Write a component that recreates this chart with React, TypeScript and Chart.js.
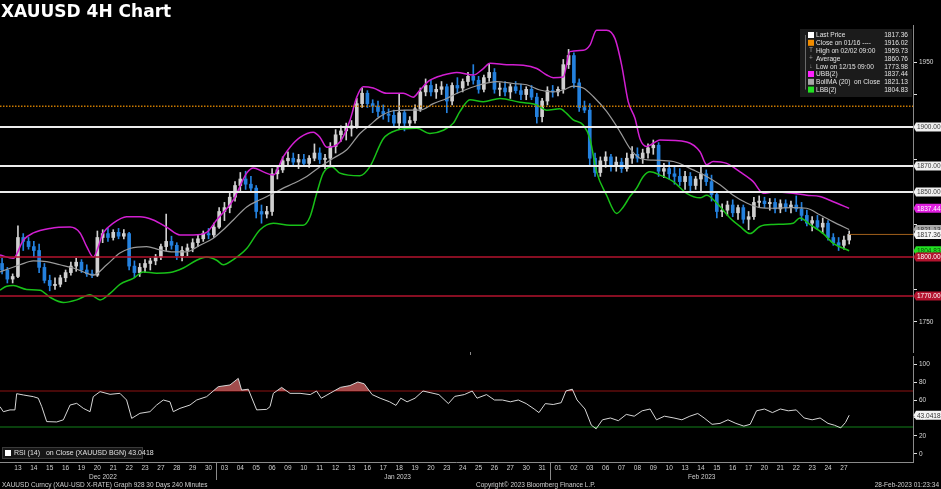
import React, { useEffect, useRef } from "react";
import { Chart, registerables } from "chart.js";

Chart.register(...registerables);

// ---------------- DATA ----------------
const dayLabels = [
  "13", "14", "15", "16", "19", "20", "21", "22", "23", "27", "28", "29", "30",
  "03", "04", "05", "06", "09", "10", "11", "12", "13", "16", "17", "18", "19", "20", "23", "24", "25", "26", "27", "30", "31",
  "01", "02", "03", "06", "07", "08", "09", "10", "13", "14", "15", "16", "17", "20", "21", "22", "23", "24", "27",
];
const monthLabels = ["Dec 2022", "Jan 2023", "Feb 2023"];
const monthLabelDay = [5.85, 24.4, 43.55];
const monthStartDay = [13, 34];

// 8-hour candles, three per trading day, first one half a day before Dec 13
const firstOpen = 1795;
const candleHigh = [
  1799, 1792, 1787, 1824, 1818, 1815, 1812, 1810, 1795, 1786,
  1784, 1786, 1790, 1796, 1799, 1798, 1794, 1790, 1820, 1821,
  1822, 1821, 1822, 1821, 1819, 1797, 1795, 1798, 1799, 1802,
  1810, 1833, 1816, 1811, 1808, 1810, 1814, 1817, 1820, 1822,
  1826, 1838, 1842, 1850, 1858, 1865, 1866, 1862, 1855, 1840,
  1839, 1868, 1870, 1877, 1881, 1880, 1879, 1879, 1878, 1887,
  1884, 1879, 1888, 1898, 1901, 1903, 1905, 1922, 1930, 1928,
  1921, 1920, 1917, 1914, 1913, 1926, 1913, 1908, 1917, 1930,
  1937, 1936, 1933, 1935, 1933, 1934, 1938, 1937, 1942, 1948,
  1939, 1940, 1949, 1945, 1934, 1935, 1933, 1935, 1933, 1931,
  1932, 1926, 1922, 1931, 1932, 1931, 1952, 1959.73, 1957, 1937,
  1920, 1918, 1880, 1877, 1881, 1879, 1877, 1876, 1880, 1885,
  1884, 1883, 1887, 1890, 1888, 1872, 1873, 1869, 1868, 1866,
  1865, 1862, 1869, 1867, 1863, 1850, 1841, 1843, 1844, 1840,
  1840, 1835, 1846, 1847, 1846, 1845, 1845, 1844, 1844, 1843,
  1847, 1842, 1836, 1831, 1832, 1830, 1828, 1818, 1815, 1816,
  1820,
];
const candleLow = [
  1787, 1780, 1780, 1784, 1805, 1806, 1800, 1788, 1780, 1773.98,
  1775, 1777, 1781, 1786, 1789, 1788, 1785, 1784, 1785, 1811,
  1812, 1813, 1814, 1814, 1790, 1784, 1785, 1788, 1790, 1794,
  1798, 1805, 1806, 1798, 1797, 1801, 1804, 1808, 1812, 1814,
  1815, 1822, 1828, 1834, 1843, 1851, 1852, 1850, 1830, 1826,
  1830, 1832, 1860, 1865, 1870, 1871, 1868, 1870, 1869, 1874,
  1872, 1868, 1870, 1880, 1889, 1890, 1893, 1899, 1915, 1915,
  1911, 1908, 1906, 1904, 1900, 1899, 1897, 1899, 1903, 1912,
  1924, 1924, 1922, 1925, 1911, 1917, 1926, 1927, 1932, 1933,
  1926, 1927, 1935, 1926, 1924, 1924, 1922, 1926, 1921, 1921,
  1921, 1903, 1904, 1917, 1923, 1924, 1926, 1945, 1930, 1912,
  1911, 1870, 1862, 1862, 1869, 1866, 1866, 1865, 1866, 1872,
  1873, 1872, 1876, 1879, 1862, 1861, 1860, 1856, 1855, 1852,
  1851, 1852, 1851, 1855, 1843, 1830, 1831, 1832, 1831, 1829,
  1826, 1821, 1829, 1838, 1838, 1836, 1834, 1834, 1835, 1834,
  1835, 1828, 1824, 1820, 1821, 1818, 1813, 1809, 1805, 1806,
  1810,
];
const candleClose = [
  1790, 1783, 1785, 1815, 1812, 1808, 1805, 1792, 1782, 1778,
  1779, 1784, 1788, 1793, 1796, 1790, 1787, 1786, 1815, 1818,
  1815, 1819, 1816, 1818, 1793, 1788, 1792, 1795, 1797, 1800,
  1808, 1812, 1809, 1801, 1805, 1807, 1811, 1814, 1818, 1817,
  1823, 1835, 1838, 1846, 1855, 1860, 1856, 1853, 1835, 1833,
  1835, 1864, 1867, 1874, 1876, 1873, 1875, 1872, 1876, 1880,
  1875, 1876, 1885, 1894, 1897, 1899, 1901, 1918, 1926, 1918,
  1916.02, 1912, 1910, 1909, 1903, 1911, 1903, 1905, 1914, 1927,
  1932, 1927, 1929, 1931, 1920, 1932, 1930, 1935, 1939, 1936,
  1929, 1938, 1942, 1929, 1930, 1927, 1931, 1928, 1925, 1929,
  1923, 1908, 1920, 1928, 1927, 1929, 1948, 1955, 1934, 1915,
  1913, 1876, 1865, 1874, 1877, 1870, 1873, 1868, 1876, 1879,
  1876, 1880, 1884, 1886, 1866, 1868, 1864, 1862, 1858, 1862,
  1855, 1860, 1864, 1858, 1848, 1835, 1836, 1840, 1834, 1838,
  1829, 1831, 1842, 1843, 1841, 1842, 1837, 1841, 1838, 1840,
  1837, 1832, 1826, 1828, 1823, 1826, 1815, 1811, 1809, 1813,
  1817.36,
];

// Bollinger bands, (trading-day position, price)
const upperDays = [-0.63, 0.21, 0.84, 1.47, 2.52, 3.78, 4.41, 4.83, 5.24, 5.87, 6.5, 7.34, 8.18, 9.02, 9.86, 10.7, 11.54, 12.38, 13.01, 14.06, 14.9, 15.32, 15.95, 16.58, 17.2, 17.63, 18.26, 19.09, 19.52, 19.94, 20.77, 21.4, 21.83, 22.24, 22.87, 23.71, 24.76, 25.39, 25.81, 26.44, 27.28, 28.12, 29.17, 29.8, 30.22, 31.27, 32.31, 33.16, 33.79, 34.2, 34.83, 35.25, 36.09, 36.51, 36.93, 37.56, 38.09, 38.51, 38.92, 39.35, 39.66, 40.08, 40.5, 40.92, 42.6, 43.44, 43.86, 44.27, 45.12, 45.96, 46.79, 47.42, 48.05, 49.31, 50.15, 50.99, 51.83, 52.83];
const upperBand = [1801.5, 1799, 1813, 1818.5, 1822, 1823, 1818.5, 1808, 1800, 1818.5, 1826, 1831, 1831, 1828.5, 1823, 1817, 1817, 1819, 1828.5, 1844, 1864.5, 1868.5, 1865.5, 1863, 1877, 1884.5, 1892, 1896, 1892, 1884.5, 1888.5, 1905, 1923, 1931, 1930, 1926, 1926, 1923, 1928.5, 1936, 1940, 1942, 1940, 1945, 1949, 1948, 1947.5, 1945, 1940, 1938, 1938.5, 1958, 1959, 1963, 1974.5, 1974.5, 1968, 1947.5, 1919.5, 1906.5, 1891, 1885, 1887.5, 1890, 1888.5, 1881, 1871, 1873.5, 1872, 1865.5, 1858, 1849, 1850, 1849, 1847.5, 1846.5, 1842.5, 1837.44];

const middleDays = [-0.63, 0.63, 1.47, 2.31, 3.15, 3.99, 4.83, 5.24, 6.09, 6.92, 7.55, 8.6, 9.44, 10.28, 11.12, 11.96, 12.8, 13.43, 14.06, 14.9, 15.74, 16.58, 17.2, 17.83, 18.68, 19.52, 20.35, 21.2, 22.03, 22.66, 23.29, 24.13, 24.97, 25.81, 26.65, 27.49, 28.33, 29.59, 30.64, 31.68, 32.53, 33.36, 34.2, 34.83, 35.46, 36.09, 36.72, 37.56, 38.4, 39.03, 39.66, 40.5, 41.76, 43.01, 43.86, 44.7, 45.53, 46.38, 47.21, 48.05, 49.31, 50.15, 50.99, 51.83, 52.83];
const middleBand = [1788.5, 1794, 1797, 1796.5, 1794, 1791.5, 1787.5, 1786, 1794, 1803, 1806.5, 1808, 1805.5, 1804, 1804, 1809, 1814.5, 1821, 1828.5, 1838.5, 1844, 1849, 1853, 1856.5, 1862, 1869.5, 1876, 1882.5, 1895, 1901.5, 1908, 1912.5, 1913, 1913, 1918, 1922, 1927, 1932.5, 1935, 1933.5, 1932.5, 1928.5, 1927, 1928.5, 1931.5, 1930, 1923.5, 1912, 1896.5, 1883.5, 1876, 1874.5, 1873.5, 1867, 1862, 1855.5, 1847.5, 1841.5, 1838, 1837.5, 1838, 1837.5, 1832.5, 1827, 1821.13];

const lowerDays = [-0.63, -0.21, 0.21, 1.05, 1.89, 2.52, 3.36, 4.2, 5.04, 5.67, 6.3, 6.92, 7.76, 8.39, 9.23, 10.07, 10.91, 11.75, 12.38, 13.01, 13.43, 14.06, 14.9, 15.74, 16.58, 17.63, 18.46, 18.89, 19.31, 19.72, 20.25, 20.77, 22.03, 22.66, 23.5, 24.34, 25.6, 26.44, 27.28, 27.91, 28.33, 28.96, 29.8, 30.85, 32.1, 33.16, 33.79, 34.62, 35.04, 35.46, 36.09, 36.51, 36.93, 37.56, 38.19, 38.61, 39.03, 39.45, 39.87, 40.29, 40.92, 41.76, 42.6, 43.44, 43.86, 44.49, 45.33, 45.96, 46.59, 47.21, 48.05, 49.31, 49.73, 50.36, 51.2, 51.83, 52.83];
const lowerBand = [1774.5, 1777.5, 1778, 1775, 1774.5, 1769, 1765, 1767, 1771, 1767, 1772, 1779, 1783.5, 1788.5, 1787.5, 1788, 1791.5, 1797.5, 1800, 1797.5, 1794, 1798, 1806.5, 1821, 1826, 1824.5, 1824.5, 1831, 1849, 1864.5, 1869.5, 1864.5, 1862.5, 1869.5, 1891, 1897.5, 1899, 1895, 1897.5, 1903, 1912, 1921, 1919.5, 1922, 1919, 1917, 1913, 1914, 1910.5, 1905.5, 1901.5, 1891, 1865.5, 1847.5, 1833.5, 1838.5, 1846.5, 1853, 1862, 1865.5, 1863, 1858, 1849, 1845.5, 1847.5, 1841.5, 1830, 1823.5, 1818, 1823.5, 1825, 1826, 1830, 1825, 1818, 1810.5, 1804.83];

// RSI(14)
const rsiDays = [-0.63, -0.42, 0, 0.31, 0.42, 0.84, 1.47, 1.78, 2.0, 2.31, 2.94, 3.36, 3.78, 4.2, 4.62, 5.04, 5.24, 5.67, 6.3, 6.92, 7.34, 7.66, 8.18, 8.81, 9.23, 9.65, 10.07, 10.28, 10.7, 11.33, 11.75, 12.38, 13.11, 13.85, 14.37, 14.58, 15.0, 15.53, 16.16, 16.37, 16.58, 17.1, 17.63, 18.26, 18.9, 19.3, 19.6, 20.2, 20.8, 21.4, 21.9, 22.3, 22.8, 23.3, 23.9, 24.3, 24.6, 25.0, 25.5, 26.0, 26.5, 27.0, 27.6, 28.0, 28.6, 29.1, 29.4, 30.0, 30.5, 31.0, 31.5, 32.0, 32.5, 33.0, 33.3, 33.7, 34.2, 34.7, 35.0, 35.4, 35.7, 36.2, 36.6, 36.9, 37.3, 37.8, 38.3, 38.8, 39.3, 39.8, 40.3, 40.7, 41.2, 41.8, 42.3, 42.8, 43.3, 43.7, 44.2, 44.7, 45.2, 45.7, 46.2, 46.6, 47.0, 47.5, 48.0, 48.5, 49.0, 49.5, 50.0, 50.5, 51.0, 51.5, 51.9, 52.3, 52.6, 52.83];
const rsiValues = [52.6, 47, 49, 49, 67, 65.6, 63.7, 62, 52.6, 36, 35.6, 38, 54.4, 56.3, 50.7, 47, 63.7, 69.3, 66.3, 67.4, 60, 39.6, 45.2, 47, 54.4, 60, 58, 47, 50.7, 54.4, 60, 63.7, 74.8, 76.7, 84, 71, 72, 49, 49.6, 52.6, 67.4, 74, 67.4, 67.4, 66, 70, 62, 68, 74, 76, 80, 78, 66, 62, 58, 54, 62, 58, 62, 70, 68, 66, 56, 64, 66, 70, 62, 66, 60, 60, 58, 60, 56, 50, 46, 56, 55, 57, 70, 72, 60, 50, 32, 28, 38, 40, 37, 44, 42, 48, 50, 38, 42, 40, 38, 42, 45, 40, 33, 34, 38, 34, 31, 33, 48, 50, 46, 50, 48, 49, 40, 38, 40, 34, 32, 29, 35, 43.0418];

const whiteLevels = [1900, 1870, 1850];
const redLevels = [1800, 1770];
const closeOn0116 = 1916.02;
const lastPrice = 1817.36;
const lastUBB = 1837.44;
const lastMA = 1821.13;
const lastLBB = 1804.83;
const lastRSI = 43.0418;
const priceTicks = [1750, 1775, 1800, 1825, 1850, 1875, 1900, 1925, 1950];
const rsiTicks = [0, 20, 40, 60, 80, 100];
const rsiOverbought = 70;
const rsiOversold = 30;

const legendLabels = ["Last Price", "Close on 01/16 ----", "High on 02/02 09:00", "Average", "Low on 12/15 09:00", "UBB(2)", "BollMA (20)  on Close", "LBB(2)"];
const legendValues = ["1817.36", "1916.02", "1959.73", "1860.76", "1773.98", "1837.44", "1821.13", "1804.83"];
const rsiLegend = "RSI (14)   on Close (XAUUSD BGN) 43.0418";
const footerLeft = "XAUUSD Curncy (XAU-USD X-RATE) Graph 928 30 Days 240 Minutes";
const footerMid = "Copyright\u00a9 2023 Bloomberg Finance L.P.";
const footerRight = "28-Feb-2023 01:23:34";

// ---------------- STYLE ----------------
const FONT = '"Liberation Sans", Arial, sans-serif';
const T_MIN = -0.63;
const T_MAX = 56.85;
const UP = "#d0d0d0";
const DOWN = "#2481de";

const candleOpen = [firstOpen, ...candleClose.slice(0, -1)];
const candleTime = candleClose.map((_, i) => -0.5 + i / 3);

function pts(xs: number[], ys: number[]) {
  return xs.map((x, i) => ({ x, y: ys[i] }));
}
function hline(v: number, x0 = T_MIN, x1 = T_MAX) {
  return [{ x: x0, y: v }, { x: x1, y: v }];
}

function drawTag(ctx: CanvasRenderingContext2D, chart: any, y: number, text: string, bg: string, fg: string) {
  const left = chart.chartArea.right;
  const right = chart.width;
  const h = 9;
  ctx.save();
  ctx.fillStyle = bg;
  ctx.beginPath();
  ctx.moveTo(left + 0.5, y);
  ctx.lineTo(left + 3, y - h / 2);
  ctx.lineTo(right, y - h / 2);
  ctx.lineTo(right, y + h / 2);
  ctx.lineTo(left + 3, y + h / 2);
  ctx.closePath();
  ctx.fill();
  ctx.fillStyle = fg;
  ctx.font = `6.5px ${FONT}`;
  ctx.textBaseline = "middle";
  ctx.textAlign = "left";
  ctx.fillText(text, left + 4, y + 0.5);
  ctx.restore();
}

const mainDecor = {
  id: "mainDecor",
  afterDraw(chart: any) {
    const ctx = chart.ctx as CanvasRenderingContext2D;
    const ys = chart.scales.y;
    const area = chart.chartArea;
    // axis tags
    whiteLevels.forEach((v) => drawTag(ctx, chart, ys.getPixelForValue(v), v.toFixed(2), "#f0f0f0", "#3a3a3a"));
    drawTag(ctx, chart, ys.getPixelForValue(lastUBB), lastUBB.toFixed(2), "#e01fe0", "#ffffff");
    drawTag(ctx, chart, ys.getPixelForValue(lastMA), lastMA.toFixed(2), "#a9a9a9", "#303030");
    drawTag(ctx, chart, ys.getPixelForValue(lastPrice), lastPrice.toFixed(2), "#f4f4f4", "#303030");
    drawTag(ctx, chart, ys.getPixelForValue(lastLBB), lastLBB.toFixed(2), "#22e022", "#0a4a0a");
    redLevels.forEach((v) => drawTag(ctx, chart, ys.getPixelForValue(v), v.toFixed(2), "#b3132e", "#ffffff"));

    // legend box
    const lw = 112;
    const lx = area.right - 1 - lw;
    const ly = area.top + 4;
    const rowH = 7.8;
    ctx.save();
    ctx.fillStyle = "#1b1b1b";
    ctx.fillRect(lx, ly, lw, 68);
    ctx.strokeStyle = "#6a6a6a";
    ctx.lineWidth = 1;
    ctx.beginPath();
    ctx.moveTo(lx + 5.5, ly + 6);
    ctx.lineTo(lx + 5.5, ly + 6 + rowH * 7);
    ctx.stroke();
    const icons = ["#ffffff", "#f08c00", "T", "+", "\u2193", "#ff20ff", "#a8a8a8", "#22e022"];
    ctx.font = `6.6px ${FONT}`;
    ctx.textBaseline = "middle";
    legendLabels.forEach((lab, i) => {
      const cy = ly + 6 + i * rowH;
      const ic = icons[i];
      if (ic.startsWith("#")) {
        ctx.fillStyle = ic;
        ctx.fillRect(lx + 8, cy - 3, 6, 6);
      } else {
        ctx.fillStyle = "#9a9a9a";
        ctx.textAlign = "center";
        ctx.fillText(ic, lx + 11, cy);
      }
      ctx.fillStyle = "#e2e2e2";
      ctx.textAlign = "left";
      ctx.fillText(lab, lx + 16, cy + 0.5);
      ctx.textAlign = "right";
      ctx.fillText(legendValues[i], lx + lw - 4, cy + 0.5);
    });
    // small divider mark between panels
    ctx.strokeStyle = "#8a8a8a";
    ctx.beginPath();
    ctx.moveTo(470.5, area.bottom);
    ctx.lineTo(470.5, area.bottom + 3);
    ctx.stroke();
    ctx.restore();
  },
};

const rsiDecor = {
  id: "rsiDecor",
  afterDraw(chart: any) {
    const ctx = chart.ctx as CanvasRenderingContext2D;
    const xs = chart.scales.x;
    const ys = chart.scales.y;
    const area = chart.chartArea;
    ctx.save();
    // bottom axis line
    ctx.strokeStyle = "#8a8a8a";
    ctx.lineWidth = 1;
    ctx.beginPath();
    ctx.moveTo(0, area.bottom + 0.5);
    ctx.lineTo(area.right, area.bottom + 0.5);
    ctx.stroke();
    // month separators
    monthStartDay.forEach((d) => {
      const px = Math.round(xs.getPixelForValue(d)) + 0.5;
      ctx.beginPath();
      ctx.moveTo(px, area.bottom);
      ctx.lineTo(px, area.bottom + 18);
      ctx.stroke();
    });
    // day labels
    ctx.fillStyle = "#d0d0d0";
    ctx.font = `6.5px ${FONT}`;
    ctx.textAlign = "center";
    ctx.textBaseline = "middle";
    dayLabels.forEach((lab, i) => {
      ctx.fillText(lab, xs.getPixelForValue(i + 0.5), area.bottom + 6.5);
    });
    monthLabels.forEach((lab, i) => {
      ctx.fillText(lab, xs.getPixelForValue(monthLabelDay[i]), area.bottom + 15);
    });
    // RSI legend
    ctx.fillStyle = "#161616";
    ctx.fillRect(2, area.bottom - 15, 141, 12);
    ctx.strokeStyle = "#3a3a3a";
    ctx.strokeRect(2.5, area.bottom - 14.5, 140, 11);
    ctx.fillStyle = "#ffffff";
    ctx.fillRect(5, area.bottom - 12, 6, 6);
    ctx.fillStyle = "#e0e0e0";
    ctx.font = `7px ${FONT}`;
    ctx.textAlign = "left";
    ctx.fillText(rsiLegend, 14, area.bottom - 8.5);
    ctx.restore();
    drawTag(ctx, chart, ys.getPixelForValue(lastRSI), lastRSI.toFixed(4), "#f4f4f4", "#303030");
  },
};

function yAxis(min: number, max: number, ticks: number[], labelEvery: number) {
  return {
    position: "right" as const,
    min,
    max,
    afterFit(s: any) {
      s.width = 28;
    },
    afterBuildTicks(s: any) {
      s.ticks = ticks.map((v) => ({ value: v }));
    },
    grid: {
      display: true,
      drawOnChartArea: false,
      drawTicks: true,
      tickLength: 4,
      color: "#e0e0e0",
      lineWidth: 1,
    },
    border: { display: true, color: "#8a8a8a", width: 1 },
    ticks: {
      color: "#d8d8d8",
      padding: 2,
      font: { family: FONT, size: 6.5 },
      callback: (v: any) => (Number(v) % labelEvery === 0 ? String(v) : ""),
    },
  };
}

export default function App() {
  const mainRef = useRef<HTMLCanvasElement>(null);
  const rsiRef = useRef<HTMLCanvasElement>(null);

  useEffect(() => {
    const colors = candleClose.map((c, i) => (c >= candleOpen[i] ? UP : DOWN));
    const lastT = candleTime[candleTime.length - 1];

    const main = new Chart(mainRef.current as HTMLCanvasElement, {
      type: "bar",
      data: {
        datasets: [
          ...whiteLevels.map((v) => ({
            type: "line" as const,
            data: hline(v),
            borderColor: "#ececec",
            borderWidth: 2,
            pointRadius: 0,
            order: 0,
          })),
          ...redLevels.map((v) => ({
            type: "line" as const,
            data: hline(v),
            borderColor: "#b3132e",
            borderWidth: 1.5,
            pointRadius: 0,
            order: 0,
          })),
          {
            type: "line" as const,
            data: hline(closeOn0116),
            borderColor: "#c87800",
            borderWidth: 1.5,
            borderDash: [1.5, 1.5],
            pointRadius: 0,
            order: 0,
          },
          {
            type: "line" as const,
            data: hline(lastPrice, lastT, T_MAX),
            borderColor: "#a0601c",
            borderWidth: 1,
            pointRadius: 0,
            order: 0,
          },
          {
            type: "line" as const,
            data: pts(upperDays, upperBand),
            borderColor: "#d21fd2",
            borderWidth: 1.5,
            pointRadius: 0,
            cubicInterpolationMode: "monotone" as const,
            order: 1,
          },
          {
            type: "line" as const,
            data: pts(middleDays, middleBand),
            borderColor: "#9a9a9a",
            borderWidth: 1.2,
            pointRadius: 0,
            cubicInterpolationMode: "monotone" as const,
            order: 1,
          },
          {
            type: "line" as const,
            data: pts(lowerDays, lowerBand),
            borderColor: "#18c018",
            borderWidth: 1.5,
            pointRadius: 0,
            cubicInterpolationMode: "monotone" as const,
            order: 1,
          },
          {
            type: "bar" as const,
            data: candleTime.map((t, i) => ({ x: t, y: [candleOpen[i], candleClose[i]] })),
            backgroundColor: colors,
            barThickness: 3,
            minBarLength: 1,
            grouped: false,
            order: 2,
          },
          {
            type: "bar" as const,
            data: candleTime.map((t, i) => ({ x: t, y: [candleLow[i], candleHigh[i]] })),
            backgroundColor: colors,
            barThickness: 1,
            grouped: false,
            order: 3,
          },
        ] as any,
      },
      options: {
        animation: false,
        responsive: false,
        events: [],
        layout: { padding: { left: 0, top: 25, right: 0, bottom: 137 } },
        plugins: { legend: { display: false }, tooltip: { enabled: false } },
        scales: {
          x: { type: "linear", min: T_MIN, max: T_MAX, display: false, offset: false },
          y: yAxis(1726.9, 1978.5, priceTicks, 50) as any,
        },
      },
      plugins: [mainDecor],
    });

    const rsi = new Chart(rsiRef.current as HTMLCanvasElement, {
      type: "line",
      data: {
        datasets: [
          {
            data: pts(rsiDays, rsiValues),
            borderColor: "#d6d6d6",
            borderWidth: 1,
            pointRadius: 0,
            fill: { target: { value: rsiOverbought }, above: "rgba(200,95,95,0.8)", below: "rgba(0,0,0,0)" },
            order: 0,
          },
          {
            data: pts(rsiDays, rsiValues),
            borderColor: "rgba(0,0,0,0)",
            borderWidth: 0,
            pointRadius: 0,
            fill: { target: { value: rsiOversold }, above: "rgba(0,0,0,0)", below: "rgba(40,170,40,0.85)" },
            order: 1,
          },
          {
            data: hline(rsiOverbought),
            borderColor: "#8e1212",
            borderWidth: 1.2,
            pointRadius: 0,
            order: 2,
          },
          {
            data: hline(rsiOversold),
            borderColor: "#12801a",
            borderWidth: 1.2,
            pointRadius: 0,
            order: 2,
          },
        ] as any,
      },
      options: {
        animation: false,
        responsive: false,
        events: [],
        layout: { padding: { left: 0, top: 356, right: 0, bottom: 27 } },
        plugins: { legend: { display: false }, tooltip: { enabled: false } },
        scales: {
          x: { type: "linear", min: T_MIN, max: T_MAX, display: false },
          y: yAxis(-8.89, 108.89, rsiTicks, 20) as any,
        },
      },
      plugins: [rsiDecor],
    });

    return () => {
      main.destroy();
      rsi.destroy();
    };
  }, []);

  const small: React.CSSProperties = {
    position: "absolute",
    top: 480,
    fontFamily: FONT,
    fontSize: "6.5px",
    lineHeight: "9px",
    color: "#cfcfcf",
    whiteSpace: "nowrap",
  };

  return (
    <div style={{ position: "fixed", left: 0, top: 0, width: 941, height: 489, background: "#000", overflow: "hidden" }}>
      <canvas ref={mainRef} width={941} height={489} style={{ position: "absolute", left: 0, top: 0 }} />
      <canvas ref={rsiRef} width={941} height={489} style={{ position: "absolute", left: 0, top: 0 }} />
      <div
        style={{
          position: "absolute",
          left: 1,
          top: 0,
          fontFamily: '"DejaVu Sans", Verdana, sans-serif',
          fontWeight: "bold",
          fontSize: "17px",
          lineHeight: "22px",
          color: "#ffffff",
          whiteSpace: "nowrap",
        }}
      >
        XAUUSD 4H Chart
      </div>
      <div style={{ ...small, left: 2 }}>{footerLeft}</div>
      <div style={{ ...small, left: 476 }}>{footerMid}</div>
      <div style={{ ...small, right: 2 }}>{footerRight}</div>
    </div>
  );
}
